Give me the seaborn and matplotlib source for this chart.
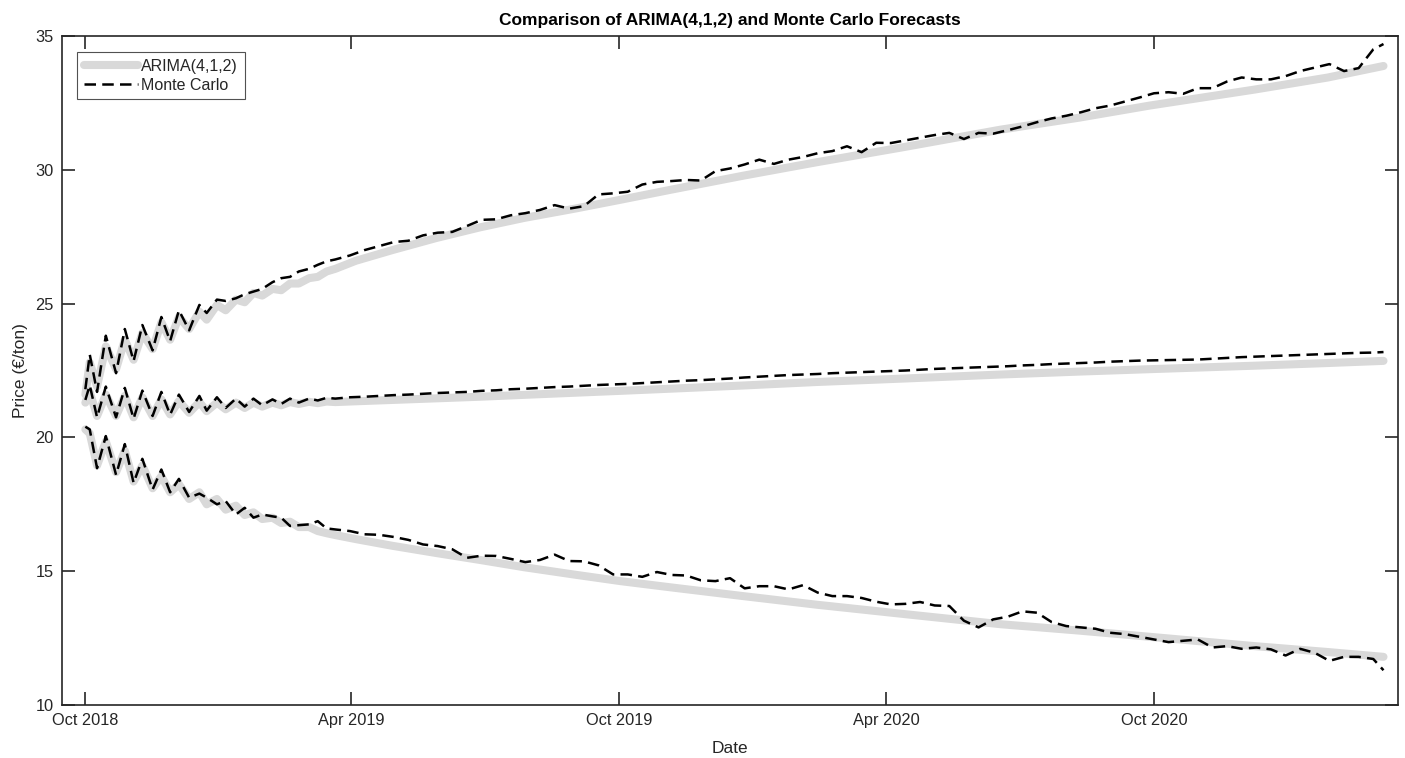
import numpy as np
import pandas as pd
import matplotlib
matplotlib.use("Agg")
import matplotlib.pyplot as plt
import matplotlib.dates as mdates
import seaborn as sns

# ---- forecast data (days after 1 Oct 2018) ----
start_date = "2018-10-01"

arima_days = [0, 3, 8, 14, 21, 27, 33, 39, 46, 52, 58, 64, 71, 78, 83, 90, 96, 103,
              109, 115, 121, 128, 134, 140, 146, 153, 159, 165, 171,
              185, 210, 240, 270, 300, 335, 366, 400, 450, 500, 560, 626, 680, 728,
              800, 850, 888]

arima_upper = [21.6, 22.8, 21.9, 23.4, 22.55, 23.65, 22.9, 23.9, 23.3, 24.3, 23.65, 24.5,
               24.05, 24.7, 24.4, 24.95, 24.75, 25.15, 25.05, 25.4, 25.3, 25.55, 25.5,
               25.75, 25.75, 25.95, 26.0, 26.2, 26.3,
               26.6, 27.0, 27.45, 27.85, 28.2, 28.55, 28.88, 29.25, 29.78, 30.28, 30.85,
               31.5, 31.95, 32.4, 33.0, 33.45, 33.88]

arima_mid = [21.3, 21.7, 20.8, 21.6, 20.8, 21.55, 20.75, 21.5, 20.8, 21.42, 20.86, 21.36,
             20.92, 21.32, 20.98, 21.3, 21.05, 21.3, 21.1, 21.3, 21.15, 21.3, 21.2, 21.32,
             21.25, 21.33, 21.28, 21.34, 21.32,
             21.35, 21.4, 21.46, 21.52, 21.59, 21.67, 21.74, 21.82, 21.94, 22.07, 22.2,
             22.35, 22.46, 22.55, 22.68, 22.78, 22.86]

arima_lower = [20.3, 20.15, 18.95, 19.85, 18.7, 19.5, 18.35, 18.95, 18.1, 18.55, 17.95,
               18.25, 17.7, 17.95, 17.5, 17.7, 17.3, 17.45, 17.1, 17.2, 16.95, 17.0, 16.8,
               16.85, 16.65, 16.65, 16.5, 16.42, 16.35,
               16.2, 15.95, 15.68, 15.42, 15.15, 14.87, 14.63, 14.4, 14.07, 13.75, 13.4,
               13.02, 12.78, 12.55, 12.2, 11.98, 11.8]

mc_days = [0, 3, 8, 14, 21, 27, 33, 39, 46, 52, 58, 64, 71, 78, 83, 90, 96, 103,
           109, 115, 121, 128, 134, 140, 146, 153, 159, 165, 171,
           181, 191, 201, 211, 221, 231, 241, 251, 261, 271, 281, 291, 301, 311, 321,
           331, 341, 351, 361, 371, 381, 391, 401, 411, 421, 431, 441, 451, 461, 471,
           481, 491, 501, 511, 521, 531, 541, 551, 561, 571, 581, 591, 601, 611, 621,
           631, 641, 651, 661, 671, 681, 691, 701, 711, 721, 731, 741, 751, 761, 771,
           781, 791, 801, 811, 821, 831, 841, 851, 861, 871, 881, 888]

mc_upper = [21.8, 23.1, 21.7, 23.8, 22.4, 24.05, 22.85, 24.2, 23.25, 24.5, 23.6, 24.75,
            24.0, 24.95, 24.65, 25.15, 25.1, 25.2, 25.35, 25.45, 25.55, 25.8, 25.95, 26.0,
            26.2, 26.3, 26.45, 26.58, 26.65,
            26.8, 27.0, 27.15, 27.3, 27.35, 27.55, 27.65, 27.68, 27.9, 28.13, 28.15, 28.3,
            28.38, 28.5, 28.68, 28.55, 28.64, 29.08, 29.12, 29.18, 29.45, 29.55, 29.58,
            29.62, 29.6, 29.95, 30.05, 30.2, 30.38, 30.22, 30.38, 30.48, 30.62, 30.7,
            30.88, 30.66, 31.01, 31.0, 31.1, 31.2, 31.3, 31.38, 31.15, 31.38, 31.35,
            31.48, 31.62, 31.78, 31.92, 32.02, 32.15, 32.3, 32.4, 32.55, 32.7, 32.86,
            32.9, 32.84, 33.05, 33.05, 33.3, 33.45, 33.38, 33.38, 33.5, 33.69, 33.82,
            33.95, 33.69, 33.8, 34.5, 34.7]

mc_mid = [21.4, 21.95, 20.75, 21.9, 20.75, 21.85, 20.7, 21.75, 20.8, 21.7, 20.85, 21.6,
          20.95, 21.55, 21.0, 21.5, 21.1, 21.45, 21.15, 21.45, 21.2, 21.42, 21.25, 21.45,
          21.3, 21.45, 21.38, 21.48, 21.45,
          21.5, 21.52, 21.55, 21.58, 21.6, 21.63, 21.66, 21.68, 21.7, 21.74, 21.76, 21.8,
          21.82, 21.85, 21.88, 21.9, 21.93, 21.96, 21.98, 22.0, 22.03, 22.06, 22.09,
          22.12, 22.14, 22.17, 22.2, 22.24, 22.27, 22.3, 22.33, 22.35, 22.37, 22.4,
          22.42, 22.44, 22.46, 22.48, 22.5, 22.53, 22.56, 22.58, 22.6, 22.62, 22.64,
          22.66, 22.69, 22.71, 22.74, 22.76, 22.78, 22.8, 22.83, 22.85, 22.87, 22.88,
          22.89, 22.9, 22.91, 22.94, 22.97, 23.0, 23.02, 23.04, 23.06, 23.08, 23.1,
          23.12, 23.14, 23.16, 23.17, 23.19]

mc_lower = [20.4, 20.3, 18.85, 20.05, 18.6, 19.75, 18.3, 19.2, 18.05, 18.8, 17.95, 18.45,
            17.75, 17.9, 17.75, 17.5, 17.62, 17.12, 17.37, 17.0, 17.12, 17.05, 17.0, 16.69,
            16.72, 16.75, 16.87, 16.6, 16.56,
            16.5, 16.38, 16.36, 16.28, 16.17, 16.0, 15.94, 15.82, 15.5, 15.58, 15.57, 15.46,
            15.34, 15.42, 15.62, 15.38, 15.37, 15.22, 14.88, 14.88, 14.79, 14.97, 14.86,
            14.84, 14.66, 14.63, 14.74, 14.36, 14.44, 14.44, 14.32, 14.48, 14.2, 14.07,
            14.07, 14.0, 13.86, 13.76, 13.78, 13.85, 13.72, 13.7, 13.15, 12.9, 13.2,
            13.3, 13.5, 13.45, 13.1, 12.95, 12.9, 12.85, 12.7, 12.65, 12.55, 12.45,
            12.35, 12.4, 12.45, 12.15, 12.2, 12.1, 12.15, 12.08, 11.85, 12.1, 11.95,
            11.65, 11.8, 11.8, 11.72, 11.3]

y_ticks = [10, 15, 20, 25, 30, 35]

# ---- styling ----
sns.set_style("white")
plt.rcParams["font.family"] = ["Liberation Sans", "DejaVu Sans"]
axis_color = "#262626"

fig = plt.figure(figsize=(14.05, 7.58), dpi=100)
ax = fig.add_axes([0.0441, 0.0699, 0.9510, 0.8826])

t0 = pd.Timestamp(start_date)
arima_dates = t0 + pd.to_timedelta(arima_days, unit="D")
mc_dates = t0 + pd.to_timedelta(mc_days, unit="D")

gray = "#d9d9d9"
for i, band in enumerate([arima_upper, arima_mid, arima_lower]):
    sns.lineplot(x=arima_dates, y=band, ax=ax, color=gray, linewidth=5.8,
                 estimator=None, sort=False, solid_joinstyle="round",
                 label="ARIMA(4,1,2)" if i == 0 else None, legend=False)

for i, band in enumerate([mc_upper, mc_mid, mc_lower]):
    sns.lineplot(x=mc_dates, y=band, ax=ax, color="black", linewidth=1.8,
                 estimator=None, sort=False, linestyle=(0, (4.6, 2.5)),
                 label="Monte Carlo" if i == 0 else None, legend=False)

ax.set_xlim(pd.Timestamp("2018-09-15"), pd.Timestamp("2021-03-17"))
ax.set_ylim(10, 35)
ax.set_yticks(y_ticks)
ax.xaxis.set_major_locator(mdates.MonthLocator(bymonth=[4, 10]))
ax.xaxis.set_major_formatter(mdates.DateFormatter("%b %Y"))

for side in ["left", "right", "top", "bottom"]:
    ax.spines[side].set_visible(True)
    ax.spines[side].set_color(axis_color)
    ax.spines[side].set_linewidth(1.2)

ax.tick_params(axis="both", which="major", direction="in", length=9.5, width=1.2,
               bottom=True, left=True, top=True, right=True,
               color=axis_color, labelcolor=axis_color, labelsize=11.8)
ax.tick_params(axis="x", pad=6)
ax.tick_params(axis="y", pad=6)

ax.set_title("Comparison of ARIMA(4,1,2) and Monte Carlo Forecasts",
             fontsize=12.5, fontweight="bold", color="black", pad=8)
ax.set_xlabel("Date", fontsize=12.5, color=axis_color, labelpad=9)
ax.set_ylabel("Price (\u20ac/ton)", fontsize=12.5, color=axis_color, labelpad=5)

handles, labels = ax.get_legend_handles_labels()
leg = ax.legend(handles, labels, loc="upper left", bbox_to_anchor=(0.0112, 0.976),
                frameon=True, fancybox=False, fontsize=11.5, handlelength=3.4,
                handletextpad=0.2, borderpad=0.42, labelspacing=0.25,
                edgecolor=axis_color, borderaxespad=0)
leg.get_frame().set_linewidth(0.8)

fig.savefig("out.png", dpi=100, facecolor="white")
